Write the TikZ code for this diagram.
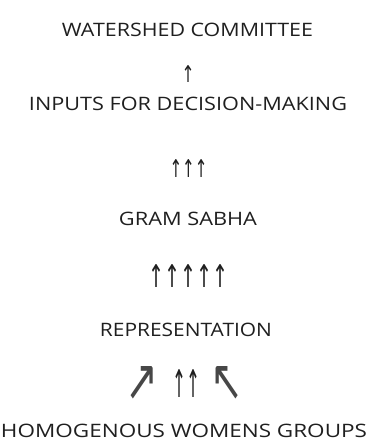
\documentclass[tikz,border=0pt]{standalone}
\usepackage{fontspec}
\usepackage{graphicx}
\setmainfont{Open Sans}
\newfontfamily\arrowfont{DejaVu Sans}
\newcommand{\fitw}[2]{\resizebox{#1pt}{\height}{#2}}
\newcommand{\fitwh}[3]{\resizebox{#1pt}{#2pt}{#3}}
\begin{document}
\begin{tikzpicture}[x=1pt,y=-1pt,
  lbl/.style={inner sep=0pt, font=\fontsize{18.5}{20}\selectfont, text=black!88},
  arr/.style={inner sep=0pt, font=\arrowfont\fontsize{17}{20}\selectfont, text=black!88},
  diag/.style={arr, text=black!72}]
\useasboundingbox (0,0) rectangle (368,445);
\node[lbl] (wc) at (187.5,30) {\fitw{251}{WATERSHED COMMITTEE}};
\node[arr] (a1) at (188,73.5) {\fitwh{13}{17}{↑}};
\node[lbl] (in) at (188,104) {\fitw{318}{INPUTS FOR DECISION-MAKING}};
\node[arr] (a2) at (188.5,168) {\fitwh{38}{18}{↑↑↑}};
\node[lbl] (gs) at (188,218.5) {\fitw{138}{GRAM SABHA}};
\node[arr] (a3) at (188,275.5) {\fitwh{80}{23}{↑↑↑↑↑}};
\node[lbl] (rep) at (186,329.5) {\fitw{172}{REPRESENTATION}};
\node[diag] (a4) at (142.5,383) {\fitwh{33}{34}{↗}};
\node[arr] (a5) at (186,383) {\fitwh{28}{28}{↑↑}};
\node[diag] (a6) at (227.5,383) {\fitwh{33}{34}{↖}};
\node[lbl] (hw) at (184,431) {\fitw{366}{HOMOGENOUS WOMENS GROUPS}};
\end{tikzpicture}
\end{document}
